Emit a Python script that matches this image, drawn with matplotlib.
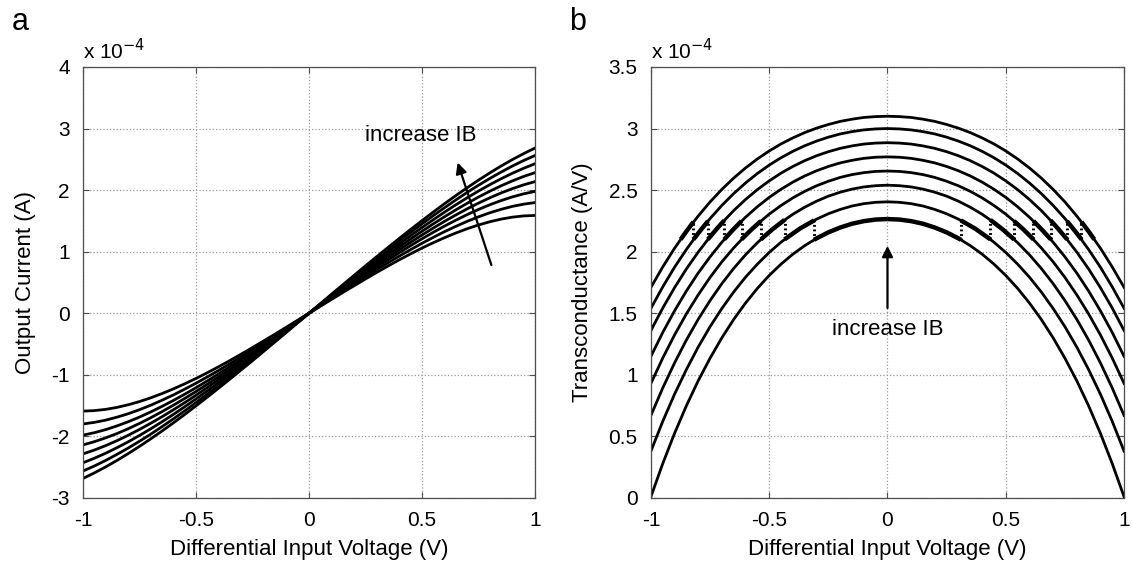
import numpy as np
import matplotlib
matplotlib.use('Agg')
import matplotlib.pyplot as plt
from matplotlib.ticker import FuncFormatter

plt.rcParams['font.family'] = ['Liberation Sans', 'DejaVu Sans']

# x positions (V), positive half; curves are mirrored to x < 0
x_half = [0.0, 0.05, 0.1, 0.15, 0.2, 0.25, 0.3, 0.35, 0.4, 0.45, 0.5,
          0.55, 0.6, 0.65, 0.7, 0.75, 0.8, 0.85, 0.9, 0.95, 1.0]

# output current, units of 1e-4 A (odd in x), 8 bias currents, highest IB first
iout_1 = [0, .155, .310, .464, .617, .770, .920, 1.070, 1.217, 1.362, 1.504,
          1.644, 1.780, 1.912, 2.039, 2.162, 2.279, 2.391, 2.496, 2.593, 2.683]
iout_2 = [0, .150, .300, .449, .597, .744, .890, 1.034, 1.176, 1.315, 1.452,
          1.586, 1.715, 1.841, 1.963, 2.079, 2.189, 2.293, 2.391, 2.481, 2.562]
iout_3 = [0, .144, .288, .431, .574, .715, .855, .993, 1.129, 1.262, 1.392,
          1.519, 1.643, 1.762, 1.876, 1.985, 2.088, 2.184, 2.274, 2.355, 2.428]
iout_4 = [0, .138, .277, .414, .551, .686, .820, .952, 1.081, 1.208, 1.332,
          1.452, 1.568, 1.680, 1.786, 1.887, 1.982, 2.070, 2.150, 2.222, 2.284]
iout_5 = [0, .133, .265, .397, .528, .657, .785, .910, 1.034, 1.154, 1.271,
          1.384, 1.493, 1.597, 1.696, 1.789, 1.875, 1.954, 2.024, 2.086, 2.138]
iout_6 = [0, .127, .254, .379, .504, .628, .749, .868, .985, 1.099, 1.209,
          1.315, 1.416, 1.512, 1.602, 1.686, 1.762, 1.830, 1.890, 1.940, 1.979]
iout_7 = [0, .120, .240, .359, .477, .593, .708, .820, .929, 1.034, 1.136,
          1.233, 1.326, 1.412, 1.493, 1.566, 1.632, 1.688, 1.736, 1.772, 1.798]
iout_8 = [0, .113, .226, .338, .448, .557, .664, .768, .869, .966, 1.059,
          1.146, 1.228, 1.304, 1.373, 1.434, 1.486, 1.529, 1.561, 1.581, 1.589]

# transconductance, units of 1e-4 A/V (even in x)
gm_1 = [3.100, 3.097, 3.090, 3.076, 3.058, 3.033, 3.003, 2.967, 2.924, 2.875, 2.818,
        2.753, 2.680, 2.598, 2.506, 2.404, 2.290, 2.165, 2.028, 1.876, 1.710]
gm_2 = [3.000, 2.997, 2.989, 2.975, 2.956, 2.930, 2.898, 2.860, 2.815, 2.763, 2.703,
        2.635, 2.558, 2.472, 2.376, 2.269, 2.150, 2.018, 1.874, 1.714, 1.540]
gm_3 = [2.885, 2.882, 2.874, 2.859, 2.839, 2.812, 2.779, 2.739, 2.692, 2.638, 2.575,
        2.504, 2.424, 2.334, 2.233, 2.121, 1.997, 1.860, 1.708, 1.542, 1.360]
gm_4 = [2.770, 2.767, 2.758, 2.742, 2.721, 2.692, 2.657, 2.615, 2.565, 2.507, 2.441,
        2.365, 2.280, 2.184, 2.077, 1.958, 1.827, 1.681, 1.520, 1.344, 1.150]
gm_5 = [2.655, 2.652, 2.642, 2.626, 2.603, 2.572, 2.535, 2.490, 2.437, 2.375, 2.305,
        2.224, 2.133, 2.031, 1.918, 1.791, 1.650, 1.495, 1.324, 1.136, 0.930]
gm_6 = [2.540, 2.536, 2.526, 2.508, 2.483, 2.451, 2.410, 2.361, 2.304, 2.237, 2.160,
        2.073, 1.975, 1.864, 1.741, 1.603, 1.451, 1.283, 1.097, 0.893, 0.670]
gm_7 = [2.405, 2.401, 2.390, 2.371, 2.343, 2.308, 2.264, 2.211, 2.149, 2.077, 1.994,
        1.899, 1.793, 1.673, 1.539, 1.391, 1.226, 1.043, 0.843, 0.622, 0.380]
gm_8 = [2.265, 2.261, 2.248, 2.227, 2.196, 2.157, 2.108, 2.049, 1.980, 1.899, 1.807,
        1.702, 1.583, 1.450, 1.301, 1.135, 0.952, 0.749, 0.525, 0.279, 0.010]

# tuned gm (thick line), positive half: centre piece on lowest curve, then switches
tune_centre_x = [0.0, 0.05, 0.1, 0.15, 0.2, 0.25, 0.3, 0.31]
tune_centre_y = [2.265, 2.261, 2.248, 2.227, 2.196, 2.157, 2.108, 2.097]
switch_x = [0.31, 0.435, 0.535, 0.617, 0.69, 0.759, 0.82]
switch_lo = [2.097, 2.10, 2.10, 2.10, 2.10, 2.10, 2.10]
switch_hi = [2.254, 2.258, 2.249, 2.249, 2.254, 2.248, 2.242]
seg_mid_x = [0.37, 0.485, 0.575, 0.655, 0.725, 0.79, 0.85]
seg_mid_y = [2.188, 2.184, 2.180, 2.174, 2.178, 2.174, 2.165]
seg_end_x = [0.435, 0.535, 0.617, 0.69, 0.759, 0.82, 0.874]
seg_end_y = [2.10, 2.10, 2.10, 2.10, 2.10, 2.10, 2.10]

iout_curves = [iout_1, iout_2, iout_3, iout_4, iout_5, iout_6, iout_7, iout_8]
gm_curves = [gm_1, gm_2, gm_3, gm_4, gm_5, gm_6, gm_7, gm_8]

TICK_FS = 15
LABEL_FS = 16
FRAME = '0.3'


def full_odd(v):
    v = np.array(v)
    return np.concatenate([-v[:0:-1], v])


def full_even(v):
    v = np.array(v)
    return np.concatenate([v[:0:-1], v])


def style_axes(ax, ylim, yticks):
    ax.set_xlim(-1, 1)
    ax.set_ylim(*ylim)
    ax.set_xticks([-1, -0.5, 0, 0.5, 1])
    ax.set_yticks(yticks)
    fmt = FuncFormatter(lambda v, p: '%g' % v)
    ax.xaxis.set_major_formatter(fmt)
    ax.yaxis.set_major_formatter(fmt)
    ax.grid(True, linestyle=':', color='0.6', linewidth=0.9)
    ax.tick_params(direction='in', top=True, right=True, length=4,
                   labelsize=TICK_FS, color=FRAME, pad=9.5)
    for s in ax.spines.values():
        s.set_color(FRAME)
        s.set_linewidth(0.9)
    ax.set_xlabel('Differential Input Voltage (V)', fontsize=LABEL_FS, labelpad=6.5)
    ax.text(0.0, 1.008, r'x 10$^{-4}$', transform=ax.transAxes, fontsize=TICK_FS,
            ha='left', va='bottom')


fig = plt.figure(figsize=(11.32, 5.69), dpi=100)
ax1 = fig.add_axes([0.0733, 0.1248, 0.3993, 0.7575])
ax2 = fig.add_axes([0.575, 0.1248, 0.418, 0.7575])

x_full = full_odd(x_half)

# panel a
for c in iout_curves:
    ax1.plot(x_full, full_odd(c), color='black', linewidth=2.0)
style_axes(ax1, (-3, 4), [-3, -2, -1, 0, 1, 2, 3, 4])
ax1.set_ylabel('Output Current (A)', fontsize=LABEL_FS, labelpad=11)
ax1.annotate('', xy=(0.654, 2.49), xytext=(0.811, 0.74),
             arrowprops=dict(arrowstyle='-|>', color='black', lw=1.6,
                             mutation_scale=16))
ax1.text(0.495, 2.88, 'increase IB', fontsize=LABEL_FS, ha='center', va='center')

# panel b
for c in gm_curves:
    ax2.plot(x_full, full_even(c), color='black', linewidth=2.0)
for sign in (1, -1):
    ax2.plot(sign * np.array(tune_centre_x), tune_centre_y, color='black',
             linewidth=3.2, solid_capstyle='butt')
    for i in range(len(switch_x)):
        ax2.plot([sign * switch_x[i]] * 2, [switch_lo[i], switch_hi[i]],
                 color='black', linestyle=(0, (0.6, 0.9)), linewidth=2.2)
        ax2.plot(sign * np.array([switch_x[i], seg_mid_x[i], seg_end_x[i]]),
                 [switch_hi[i], seg_mid_y[i], seg_end_y[i]], color='black',
                 linewidth=3.2, solid_capstyle='butt')
style_axes(ax2, (0, 3.5), [0, 0.5, 1, 1.5, 2, 2.5, 3, 3.5])
ax2.set_ylabel('Transconductance (A/V)', fontsize=LABEL_FS, labelpad=11)
ax2.annotate('', xy=(0, 2.07), xytext=(0, 1.52),
             arrowprops=dict(arrowstyle='-|>', color='black', lw=1.6,
                             mutation_scale=16))
ax2.text(0, 1.37, 'increase IB', fontsize=LABEL_FS, ha='center', va='center')

fig.text(0.010, 0.962, 'a', fontsize=22, ha='left', va='center')
fig.text(0.503, 0.962, 'b', fontsize=22, ha='left', va='center')

fig.savefig('out.png', dpi=100)
